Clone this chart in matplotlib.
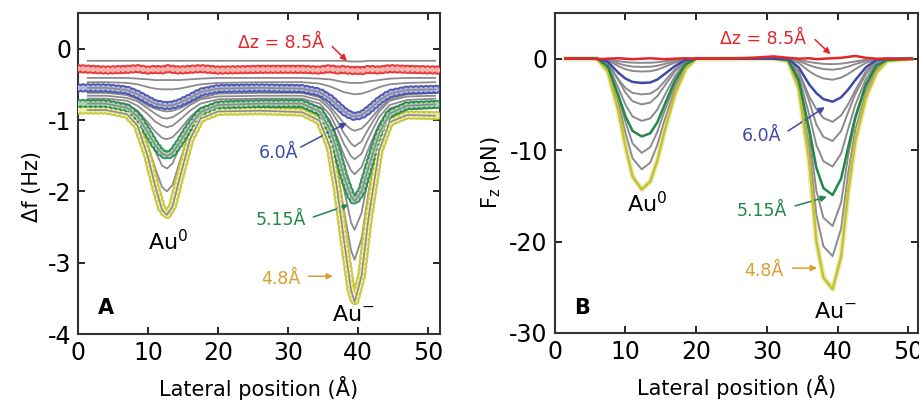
import matplotlib
matplotlib.use('Agg')
import matplotlib.pyplot as plt

plt.rcParams['font.family'] = ['DejaVu Sans']
plt.rcParams['axes.unicode_minus'] = False
plt.rcParams['lines.scale_dashes'] = False

# ---- panel A: frequency shift ----
xa = [0, 4, 7, 8.5, 10, 11, 12, 12.7, 13.5, 14.5, 16, 17.5, 20, 26,
      32, 34.5, 36, 37, 38, 39, 39.5, 40.5, 41.5, 43, 44.5, 47, 51.5]
xa_fit = [1.4, 4, 7, 8.5, 10, 11, 12, 12.7, 13.5, 14.5, 16, 17.5, 20, 26,
          32, 34.5, 36, 37, 38, 39, 39.5, 40.5, 41.5, 43, 44.5, 47, 51]

red_a = [-0.28, -0.30, -0.29, -0.28, -0.30, -0.29, -0.30, -0.28, -0.29, -0.30, -0.29, -0.28, -0.30, -0.29,
         -0.29, -0.30, -0.28, -0.30, -0.29, -0.31, -0.30, -0.31, -0.29, -0.30, -0.28, -0.29, -0.30]
blue_a = [-0.55, -0.55, -0.58, -0.64, -0.72, -0.77, -0.79, -0.80, -0.79, -0.76, -0.69, -0.61, -0.56, -0.55,
          -0.56, -0.61, -0.70, -0.79, -0.88, -0.94, -0.95, -0.93, -0.86, -0.73, -0.63, -0.58, -0.57]
green_a = [-0.77, -0.77, -0.83, -0.95, -1.18, -1.35, -1.47, -1.50, -1.46, -1.32, -1.08, -0.89, -0.79, -0.77,
           -0.77, -0.88, -1.14, -1.44, -1.80, -2.07, -2.14, -2.00, -1.66, -1.19, -0.91, -0.80, -0.78]
yellow_a = [-0.86, -0.86, -0.92, -1.08, -1.52, -1.92, -2.26, -2.33, -2.21, -1.82, -1.27, -0.98, -0.88, -0.87,
            -0.89, -1.01, -1.38, -1.96, -2.70, -3.39, -3.55, -3.18, -2.36, -1.43, -1.03, -0.93, -0.94]

fit_a1 = [-0.17, -0.17, -0.17, -0.17, -0.17, -0.17, -0.17, -0.17, -0.17, -0.17, -0.17, -0.17, -0.17, -0.17,
          -0.17, -0.17, -0.17, -0.17, -0.17, -0.18, -0.18, -0.18, -0.17, -0.17, -0.17, -0.17, -0.17]
fit_a2 = [-0.41, -0.41, -0.41, -0.42, -0.43, -0.44, -0.44, -0.44, -0.44, -0.44, -0.43, -0.42, -0.41, -0.41,
          -0.41, -0.42, -0.43, -0.45, -0.47, -0.48, -0.48, -0.48, -0.46, -0.44, -0.42, -0.41, -0.41]
fit_a3 = [-0.47, -0.47, -0.48, -0.50, -0.54, -0.56, -0.57, -0.57, -0.57, -0.56, -0.53, -0.50, -0.48, -0.47,
          -0.47, -0.49, -0.53, -0.57, -0.61, -0.63, -0.64, -0.63, -0.60, -0.54, -0.50, -0.48, -0.47]
fit_a4 = [-0.62, -0.62, -0.65, -0.71, -0.80, -0.84, -0.87, -0.88, -0.87, -0.84, -0.76, -0.69, -0.63, -0.62,
          -0.62, -0.68, -0.81, -0.93, -1.05, -1.13, -1.15, -1.12, -1.02, -0.84, -0.71, -0.64, -0.62]
fit_a5 = [-0.66, -0.66, -0.69, -0.74, -0.84, -0.91, -0.97, -0.98, -0.96, -0.90, -0.79, -0.71, -0.67, -0.66,
          -0.66, -0.72, -0.85, -1.01, -1.19, -1.33, -1.37, -1.30, -1.12, -0.88, -0.73, -0.67, -0.66]
fit_a6 = [-0.70, -0.70, -0.73, -0.80, -0.92, -1.02, -1.08, -1.10, -1.08, -1.00, -0.87, -0.77, -0.71, -0.70,
          -0.70, -0.77, -0.93, -1.12, -1.34, -1.51, -1.55, -1.47, -1.25, -0.96, -0.79, -0.72, -0.70]
fit_a7 = [-0.74, -0.74, -0.78, -0.87, -1.04, -1.16, -1.25, -1.27, -1.24, -1.14, -0.96, -0.83, -0.76, -0.74,
          -0.74, -0.82, -1.01, -1.24, -1.50, -1.71, -1.76, -1.66, -1.40, -1.06, -0.84, -0.76, -0.74]
fit_a8 = [-0.80, -0.80, -0.84, -0.93, -1.20, -1.43, -1.64, -1.68, -1.61, -1.37, -1.05, -0.87, -0.81, -0.80,
          -0.80, -0.87, -1.11, -1.50, -1.98, -2.44, -2.54, -2.30, -1.76, -1.15, -0.89, -0.82, -0.80]
fit_a9 = [-0.83, -0.83, -0.88, -1.01, -1.36, -1.67, -1.94, -2.00, -1.91, -1.59, -1.16, -0.92, -0.84, -0.83,
          -0.83, -0.92, -1.21, -1.68, -2.28, -2.83, -2.96, -2.66, -2.00, -1.26, -0.94, -0.85, -0.83]

# ---- panel B: force ----
xb = [1.5, 4, 6, 7.5, 9, 10, 11, 12.3, 13.5, 14.5, 15.5, 17, 18.5, 20, 24, 28,
      31, 33, 34.5, 36, 37, 38, 39.3, 40.5, 41.5, 42.5, 44, 45.5, 47, 50.5]

red_b = [0, 0.05, -0.05, 0, 0.05, 0, -0.05, 0, 0.05, 0, -0.05, 0, 0.05, 0, 0, 0.1,
         0.25, 0.1, 0, 0.05, -0.05, 0, 0.05, 0.1, 0.2, 0.3, 0.1, 0, 0, -0.05]
blue_b = [0, 0, 0, -0.32, -1.54, -2.17, -2.54, -2.65, -2.60, -2.28, -1.70, -0.80, -0.13, 0, 0, 0,
          0, 0, -0.94, -2.82, -3.76, -4.42, -4.70, -4.23, -3.38, -2.35, -0.94, -0.14, 0, 0]
green_b = [0, 0, 0, -0.85, -4.00, -6.29, -7.90, -8.50, -8.16, -6.97, -5.10, -2.38, -0.60, 0, 0, 0,
           0, -0.15, -2.38, -7.75, -11.92, -14.16, -14.90, -13.11, -9.69, -6.41, -2.83, -0.75, -0.15, 0]
yellow_b = [0, 0, 0, -1.43, -5.72, -9.58, -12.87, -14.30, -13.44, -11.15, -8.01, -3.86, -1.14, 0, 0, 0,
            0, -0.25, -3.28, -11.34, -19.91, -23.94, -25.20, -21.67, -14.62, -9.07, -4.28, -1.51, -0.25, 0]

fit_b1 = [0, 0, 0, -0.05, -0.26, -0.37, -0.43, -0.45, -0.44, -0.39, -0.29, -0.14, -0.02, 0, 0, 0,
          0, 0, -0.12, -0.36, -0.48, -0.56, -0.60, -0.54, -0.43, -0.30, -0.12, -0.02, 0, 0]
fit_b2 = [0, 0, 0, -0.11, -0.52, -0.74, -0.86, -0.90, -0.88, -0.77, -0.58, -0.27, -0.05, 0, 0, 0,
          0, 0, -0.24, -0.72, -0.96, -1.13, -1.20, -1.08, -0.86, -0.60, -0.24, -0.04, 0, 0]
fit_b3 = [0, 0, 0, -0.17, -0.81, -1.15, -1.34, -1.40, -1.37, -1.20, -0.90, -0.42, -0.07, 0, 0, 0,
          0, 0, -0.46, -1.38, -1.84, -2.16, -2.30, -2.07, -1.66, -1.15, -0.46, -0.07, 0, 0]
fit_b4 = [0, 0, 0, -0.47, -2.26, -3.20, -3.74, -3.90, -3.82, -3.35, -2.50, -1.17, -0.20, 0, 0, 0,
          0, 0, -1.38, -4.14, -5.52, -6.49, -6.90, -6.21, -4.97, -3.45, -1.38, -0.21, 0, 0]
fit_b5 = [0, 0, 0, -0.50, -2.35, -3.70, -4.65, -5.00, -4.80, -4.10, -3.00, -1.40, -0.35, 0, 0, 0,
          0, -0.09, -1.44, -4.68, -7.20, -8.55, -9.00, -7.92, -5.85, -3.87, -1.71, -0.45, -0.09, 0]
fit_b6 = [0, 0, 0, -0.68, -3.20, -5.03, -6.32, -6.80, -6.53, -5.58, -4.08, -1.90, -0.48, 0, 0, 0,
          0, -0.12, -1.89, -6.14, -9.44, -11.21, -11.80, -10.38, -7.67, -5.07, -2.24, -0.59, -0.12, 0]
fit_b7 = [0, 0, 0, -1.03, -4.12, -6.90, -9.27, -10.30, -9.68, -8.03, -5.77, -2.78, -0.82, 0, 0, 0,
          0, -0.18, -2.38, -8.24, -14.46, -17.39, -18.30, -15.74, -10.61, -6.59, -3.11, -1.10, -0.18, 0]
fit_b8 = [0, 0, 0, -1.21, -4.84, -8.11, -10.89, -12.10, -11.37, -9.44, -6.78, -3.27, -0.97, 0, 0, 0,
          0, -0.22, -2.81, -9.72, -17.06, -20.52, -21.60, -18.58, -12.53, -7.78, -3.67, -1.30, -0.22, 0]

RED = '#e3262a'
BLUE = '#3d4aa6'
GREEN = '#22884a'
YELLOW = '#c4c22e'
ORANGE = '#d9a032'
GRAY = '#8c8a8e'
TINT = {RED: '#f6b3ae', BLUE: '#b4b9e6', GREEN: '#a8d8b0', YELLOW: '#f0f0a8'}


def style(ax):
    ax.tick_params(direction='in', length=5, width=1.2, top=True, right=True,
                   labelsize=17, pad=5)
    for s in ax.spines.values():
        s.set_linewidth(1.5)
        s.set_color('#333333')
    ax.set_xticks(range(0, 51, 10))
    ax.set_xlabel('Lateral position (Å)', fontsize=15)
    ax.xaxis.set_label_coords(0.5, -0.13)


def label(ax, text, xy, xytext, color, tx):
    ax.text(tx[0], tx[1], text, color=color, fontsize=12.5, ha='center', va='center')
    ax.annotate('', xy=xy, xytext=xytext,
                arrowprops=dict(arrowstyle='-|>', color=color, lw=1.1,
                                mutation_scale=9, shrinkA=0, shrinkB=0))


fig = plt.figure(figsize=(9.2, 4.0), dpi=100)
ax_a = fig.add_axes([0.0848, 0.165, 0.3935, 0.8025])
ax_b = fig.add_axes([0.603, 0.1675, 0.395, 0.80])

# panel A: gray fits, then the measured points drawn as a dense band of rings
for row in [fit_a1, fit_a2, fit_a3, fit_a4, fit_a5, fit_a6, fit_a7, fit_a8, fit_a9]:
    ax_a.plot(xa_fit, row, color=GRAY, lw=1.3, zorder=2)
for ys, c in [(yellow_a, YELLOW), (green_a, GREEN), (blue_a, BLUE), (red_a, RED)]:
    ax_a.plot(xa, ys, color=c, lw=6.8, ls=(0, (0.01, 3.6)),
              dash_capstyle='round', zorder=3, alpha=0.9)
    ax_a.plot(xa, ys, color=TINT[c], lw=4.0, ls=(0, (0.01, 3.6)),
              dash_capstyle='round', zorder=3.1)
    if c != RED:
        ax_a.plot(xa_fit, ys, color=GRAY, lw=1.2, zorder=5)

ax_a.set_xlim(0, 51.7)
ax_a.set_ylim(-4, 0.5)
ax_a.set_yticks([0, -1, -2, -3, -4])
style(ax_a)
ax_a.set_ylabel('Δf (Hz)', fontsize=15)
ax_a.yaxis.set_label_coords(-0.10, 0.46)

label(ax_a, 'Δz = 8.5Å', (38.4, -0.17), (36.3, 0.03), RED, (29.0, 0.08))
label(ax_a, '6.0Å', (38.4, -1.04), (31.8, -1.38), BLUE, (28.6, -1.46))
label(ax_a, '5.15Å', (38.6, -2.19), (33.6, -2.36), GREEN, (28.9, -2.40))
label(ax_a, '4.8Å', (36.4, -3.19), (32.9, -3.19), ORANGE, (29.0, -3.23))
ax_a.text(12.9, -2.7, 'Au$^{0}$', fontsize=16, ha='center', va='center')
ax_a.text(39.3, -3.73, 'Au$^{-}$', fontsize=16, ha='center', va='center')
ax_a.text(4.0, -3.63, 'A', fontsize=15, fontweight='bold', ha='center', va='center')

# panel B
for row in [fit_b1, fit_b2, fit_b3, fit_b4, fit_b5, fit_b6, fit_b7, fit_b8]:
    ax_b.plot(xb, row, color=GRAY, lw=1.4, zorder=2)
ax_b.plot(xb, yellow_b, color=YELLOW, lw=4, alpha=0.3, zorder=3)
for ys, c in [(yellow_b, YELLOW), (green_b, GREEN), (blue_b, BLUE), (red_b, RED)]:
    ax_b.plot(xb, ys, color=c, lw=1.8, zorder=4)

ax_b.set_xlim(0, 51.4)
ax_b.set_ylim(-30, 5)
ax_b.set_yticks([0, -10, -20, -30])
style(ax_b)
ax_b.set_ylabel('F$_\\mathrm{z}$ (pN)', fontsize=15)
ax_b.yaxis.set_label_coords(-0.143, 0.5)

label(ax_b, 'Δz = 8.5Å', (39.0, 0.5), (36.8, 2.1), RED, (29.5, 2.2))
label(ax_b, '6.0Å', (38.2, -5.3), (33.0, -7.9), BLUE, (29.3, -8.5))
label(ax_b, '5.15Å', (38.5, -15.1), (34.0, -16.1), GREEN, (29.3, -16.7))
label(ax_b, '4.8Å', (37.1, -22.9), (33.6, -22.9), ORANGE, (29.6, -23.2))
ax_b.text(13.0, -15.9, 'Au$^{0}$', fontsize=16, ha='center', va='center')
ax_b.text(39.7, -27.7, 'Au$^{-}$', fontsize=16, ha='center', va='center')
ax_b.text(3.9, -27.3, 'B', fontsize=15, fontweight='bold', ha='center', va='center')

fig.savefig('out.png', dpi=100)
